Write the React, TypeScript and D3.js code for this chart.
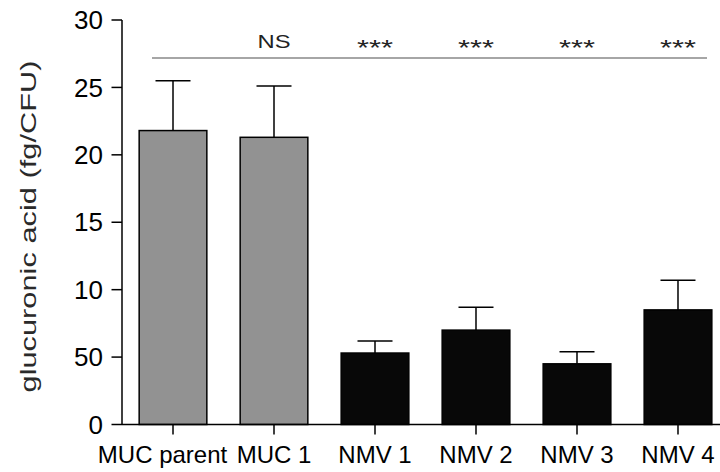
import React from "react";
import * as d3 from "d3";

const categories = ["MUC parent", "MUC 1", "NMV 1", "NMV 2", "NMV 3", "NMV 4"];
const means = [21.8, 21.3, 5.3, 7.0, 4.5, 8.5];
const errors = [3.7, 3.8, 0.9, 1.7, 0.9, 2.2];
const groups = ["MUC", "MUC", "NMV", "NMV", "NMV", "NMV"];
const significance = ["", "NS", "***", "***", "***", "***"];
const yTickValues = [0, 5, 10, 15, 20, 25, 30];
const yTickLabels = ["0", "50", "10", "15", "20", "25", "30"];

export default function App() {
  const W = 720, H = 472;
  const x0 = 122, yTop = 20, yBot = 424.5;
  const y = d3.scaleLinear().domain([0, 30]).range([yBot, yTop]);
  const x = d3
    .scaleBand<string>()
    .domain(categories)
    .range([x0, 729])
    .paddingInner(0.33)
    .paddingOuter(0.17);
  const bw = x.bandwidth();
  const font = "Liberation Sans, Arial, sans-serif";
  const sigY = 58;
  return (
    <svg
      width={W}
      height={H}
      style={{ position: "absolute", left: 0, top: 0, background: "#fff" }}
    >
      {/* significance line */}
      <line x1={152} x2={707} y1={sigY} y2={sigY} stroke="#888" strokeWidth={1.4} />
      {categories.map((c, i) => {
        if (!significance[i]) return null;
        const isNS = significance[i] === "NS";
        return (
          <text
            key={"s" + i}
            x={x(c)! + bw / 2}
            y={isNS ? 48.3 : 55}
            textAnchor="middle"
            fontFamily={font}
            fontSize={isNS ? 19 : 22}
            fill="#222"
            textLength={isNS ? 33 : 36}
            lengthAdjust="spacingAndGlyphs"
          >
            {significance[i]}
          </text>
        );
      })}
      {/* bars */}
      {categories.map((c, i) => {
        const cx = x(c)! + bw / 2;
        const top = y(means[i]);
        const eTop = y(means[i] + errors[i]);
        const gray = groups[i] === "MUC";
        return (
          <g key={c}>
            <line x1={cx} x2={cx} y1={top} y2={eTop} stroke="#000" strokeWidth={1.5} />
            <line x1={cx - 17.5} x2={cx + 17.5} y1={eTop} y2={eTop} stroke="#000" strokeWidth={1.5} />
            <rect
              x={x(c)!}
              y={top}
              width={bw}
              height={yBot - top}
              fill={gray ? "#929292" : "#080808"}
              stroke="#000"
              strokeWidth={1.5}
            />
          </g>
        );
      })}
      {/* y axis */}
      <line x1={x0} x2={x0} y1={yTop} y2={yBot} stroke="#000" strokeWidth={1.5} />
      {yTickValues.map((v, i) => (
        <g key={"y" + v}>
          <line x1={x0 - 10.5} x2={x0} y1={y(v)} y2={y(v)} stroke="#000" strokeWidth={1.5} />
          <text
            x={103}
            y={y(v) + 9.2}
            textAnchor="end"
            fontFamily={font}
            fontSize={26}
            fill="#000"
          >
            {yTickLabels[i]}
          </text>
        </g>
      ))}
      {/* x axis */}
      <line x1={x0} x2={720} y1={yBot} y2={yBot} stroke="#000" strokeWidth={1.5} />
      {categories.map((c, i) => {
        const cx = x(c)! + bw / 2;
        return (
          <g key={"x" + c}>
            <line x1={cx} x2={cx} y1={yBot} y2={yBot + 10} stroke="#000" strokeWidth={1.5} />
            <text
              x={cx}
              dx={i === 0 ? -10.5 : 0}
              y={463}
              textAnchor="middle"
              fontFamily={font}
              fontSize={24}
              fill="#000"
            >
              {c}
            </text>
          </g>
        );
      })}
      <text
        transform={`translate(35.5,226.5) rotate(-90)`}
        textAnchor="middle"
        fontFamily={font}
        fontSize={22.5}
        fill="#2a2a2a"
        textLength={332}
        lengthAdjust="spacingAndGlyphs"
      >
        glucuronic acid (fg/CFU)
      </text>
    </svg>
  );
}
